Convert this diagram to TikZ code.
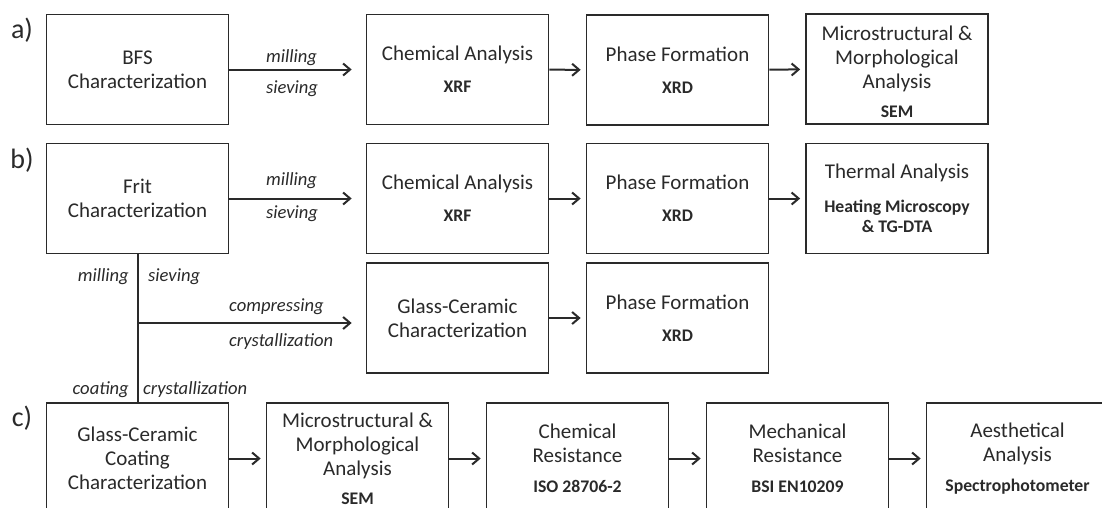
\documentclass[tikz,border=0pt]{standalone}
\usepackage{fontspec}
\setmainfont{Carlito}
\usetikzlibrary{arrows.meta,calc}
\definecolor{ink}{HTML}{2A2A2A}
\tikzset{
  box/.style={draw=ink, line width=1.7pt, minimum width=182pt, minimum height=110pt,
    inner sep=0pt, align=center, font=\fontsize{21}{24}\selectfont, text=ink},
  conn/.style={draw=ink, line width=2pt, -{Straight Barb[length=7pt,width=12pt,line width=2pt]}},
  plain/.style={draw=ink, line width=2pt},
  lab/.style={font=\fontsize{18.6}{21}\selectfont\itshape, text=ink, inner sep=0pt},
  panel/.style={font=\fontsize{28}{30}\selectfont, text=ink, inner sep=0pt},
}
\newcommand{\tech}[1]{{\fontsize{17.7}{20}\selectfont\bfseries #1}}
\begin{document}
\begin{tikzpicture}[x=1pt,y=-1pt]
\useasboundingbox (0,0) rectangle (1102,507);
\clip (0,0) rectangle (1102,507);
\fill[white] (0,0) rectangle (1102,507);

% panel labels
\node[panel] (pa) at (22,30) {a)};
\node[panel] (pb) at (22,160) {b)};
\node[panel] (pc) at (22,418) {c)};

% row a
\node[box] (bfs)  at (137.5,69.5) {BFS\\Characterization};
\node[box] (chemA) at (457.5,69.5) {Chemical Analysis\\[8pt]\tech{XRF}};
\node[box] (phA)  at (677.5,70) {Phase Formation\\[8pt]\tech{XRD}};
\node[box] (micA) at (897,69) {};
\node[align=center, inner sep=0pt, font=\fontsize{21}{24}\selectfont, text=ink] (micAt) at ($(micA.center)+(0,2.5)$) {Microstructural \&\\Morphological\\Analysis\\[5pt]\tech{SEM}};

\draw[conn, shorten >=14pt] (bfs.east) -- (bfs.east -| chemA.west);
\node[lab, anchor=base west] (l1) at ($(bfs.east)+(36.5,-7)$) {milling};
\node[lab, anchor=base west] (l2) at ($(bfs.east)+(36.5,24)$) {sieving};
\draw[conn, shorten >=5pt] (chemA) -- (phA);
\draw[conn, shorten >=5pt] (phA) -- (micA);

% row b
\node[box] (frit)  at (137.5,198.5) {Frit\\Characterization};
\node[box] (chemB) at (457.5,198.5) {Chemical Analysis\\[8pt]\tech{XRF}};
\node[box] (phB)   at (677.5,198.5) {Phase Formation\\[8pt]\tech{XRD}};
\node[box] (therm) at (897,198.5) {Thermal Analysis\\[10pt]\tech{Heating Microscopy}\\[-4pt]\tech{\& TG-DTA}};

\draw[conn, shorten >=14pt] (frit.east) -- (frit.east -| chemB.west);
\node[lab, anchor=base west] (l3) at ($(frit.east)+(36.5,-13)$) {milling};
\node[lab, anchor=base west] (l4) at ($(frit.east)+(36.5,20)$) {sieving};
\draw[conn, shorten >=5pt] (chemB) -- (phB);
\draw[conn, shorten >=5pt] (phB) -- (therm);

% glass-ceramic row
\node[box] (gc)  at (457.5,318) {Glass-Ceramic\\Characterization};
\node[box] (phC) at (677.5,318) {Phase Formation\\[8pt]\tech{XRD}};
\draw[conn, shorten >=5pt] (gc) -- (phC);

% row c
\node[box, minimum height=111pt] (coat)  at (137.5,458.5) {Glass-Ceramic\\Coating\\Characterization};
\node[box, minimum height=111pt] (micC)  at (357.5,458.5) {Microstructural \&\\Morphological\\Analysis\\[5pt]\tech{SEM}};
\node[box, minimum height=111pt] (chemR) at (577.5,458.5) {Chemical\\Resistance\\[6pt]\tech{ISO 28706-2}};
\node[box, minimum height=111pt] (mech)  at (797.5,458.5) {Mechanical\\Resistance\\[6pt]\tech{BSI EN10209}};
\node[box, minimum height=111pt] (aes)   at (1017.5,458.5) {Aesthetical\\Analysis\\[6pt]\tech{Spectrophotometer}};
\draw[conn, shorten >=5pt] (coat) -- (micC);
\draw[conn, shorten >=5pt] (micC) -- (chemR);
\draw[conn, shorten >=5pt] (chemR) -- (mech);
\draw[conn, shorten >=5pt] (mech) -- (aes);

% branch from frit
\draw[plain] (frit.south) -- (coat.north);
\coordinate (br) at (137.5,323);
\draw[conn, shorten >=14pt] (br) -- (br -| gc.west);
\node[lab, anchor=base east] (l5) at (129,281) {milling};
\node[lab, anchor=base west] (l6) at (148,281) {sieving};
\node[lab, anchor=base west] (l7) at (229,311) {compressing};
\node[lab, anchor=base west] (l8) at (229,346) {crystallization};
\node[lab, anchor=base east] (l9) at (129,394) {coating};
\node[lab, anchor=base west] (l10) at (143,394) {crystallization};
\end{tikzpicture}
\end{document}
